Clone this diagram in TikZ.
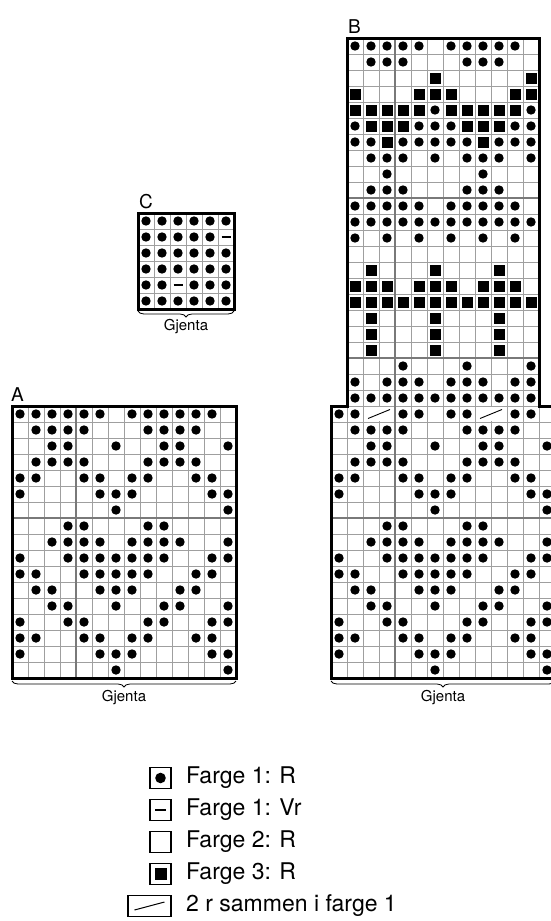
\documentclass[tikz,border=0pt]{standalone}
\usepackage{fontspec}
\setmainfont{TeX Gyre Heros}
\usetikzlibrary{decorations.pathreplacing}
\tikzset{
 gridln/.style={draw=gray!75, line width=0.9pt},
 tenln/.style={draw=gray!95!black, line width=1.8pt},
 frame/.style={draw=black, line width=3pt, line join=miter},
 brc/.style={decorate, decoration={brace, amplitude=6pt, mirror}, line width=0.8pt},
 lbl/.style={font=\fontsize{19}{19}\selectfont, inner sep=0pt, anchor=south west},
 gj/.style={font=\fontsize{15}{15}\selectfont, inner sep=0pt},
 legtxt/.style={font=\fontsize{23}{23}\selectfont, anchor=west, inner sep=0pt},
 legbox/.style={draw=black, line width=1.3pt, fill=white},
}
\newcommand\chartgrid[4]{%
  \foreach \i in {0,...,#3} \draw[gridln] ({#1+16*\i},#2) -- ++(0,{16*#4});
  \foreach \j in {0,...,#4} \draw[gridln] (#1,{#2+16*\j}) -- ++({16*#3},0);
}
\newcommand\dotrow[4]{\edef\dlist{#4}\foreach \c in \dlist {\fill ({#1+16*\c-8},{#2+16*#3-8}) circle[radius=4.7];}}
\newcommand\sqrow[4]{\edef\dlist{#4}\foreach \c in \dlist {\fill ({#1+16*\c-13.5},{#2+16*#3-13.5}) rectangle ++(11,11);}}
\newcommand\dashmark[2]{\draw[line width=1.4pt] ({#1-4.5},#2) -- ({#1+4.5},#2);}
\newcommand\lowerrows[2]{%
 \foreach \r/\cs in {2/{2,3,4,5,9,10,11,12},3/{3,4,7,10,11,14},4/{2,3,4,5,9,10,11,12},
   5/{1,2,5,6,8,9,12,13},6/{1,6,7,8,13,14},7/{7,14},8/{4,5,9,10},
   9/{3,4,5,6,8,9,10,11,14},10/{1,4,5,6,7,8,9,10,13,14},11/{1,2,5,6,7,8,9,12,13},
   12/{2,3,6,7,8,11,12},13/{3,4,7,10,11,14},14/{1,4,5,9,10,13,14},
   15/{1,2,5,6,8,9,12,13},16/{1,6,7,8,13,14},17/{7,14}}{\dotrow{#1}{#2}{\r}{\cs}}}
\begin{document}
\begin{tikzpicture}[x=1pt,y=-1pt]
\useasboundingbox (0,0) rectangle (551,921);
\clip (0,0) rectangle (551,921);
% ---------- Chart C
\chartgrid{138}{213}{6}{6}
\dotrow{138}{213}{1}{1,2,3,4,5,6}
\dotrow{138}{213}{2}{1,2,3,4,5}
\dashmark{226}{237}
\dotrow{138}{213}{3}{1,2,3,4,5,6}
\dotrow{138}{213}{4}{1,2,3,4,5,6}
\dotrow{138}{213}{5}{1,2,4,5,6}
\dashmark{178}{285}
\dotrow{138}{213}{6}{1,2,3,4,5,6}
\draw[frame] (138,213) rectangle (234,309);
\node[lbl] (labC) at (139,209) {C};
\draw[brc] (138,311) -- (234,311);
\node[gj] (gjC) at (186,327) {Gjenta};
% ---------- Chart A
\chartgrid{12}{406}{14}{17}
\draw[tenln] (76,406) -- (76,678);
\draw[tenln] (12,518) -- (236,518);
\dotrow{12}{406}{1}{1,2,3,4,5,6,8,9,10,11,12,13}
\lowerrows{12}{406}
\draw[frame] (12,406) rectangle (236,678);
\node[lbl] (labA) at (11,402) {A};
\draw[brc] (12,681) -- (236,681);
\node[gj] (gjA) at (124,698) {Gjenta};
% ---------- Chart B
\chartgrid{347}{38}{12}{23}
\chartgrid{331}{406}{14}{17}
\draw[tenln] (395,38) -- (395,678);
\draw[tenln] (347,198) -- (539,198);
\draw[tenln] (347,358) -- (539,358);
\draw[tenln] (331,518) -- (555,518);
% top part
\dotrow{347}{38}{1}{1,2,3,4,5,7,8,9,10,11}
\dotrow{347}{38}{2}{2,3,4,8,9,10}
\sqrow{347}{38}{3}{6,12}
\sqrow{347}{38}{4}{1,5,6,7,11,12}
\sqrow{347}{38}{5}{1,2,3,4,5,7,8,9,10,11}
\dotrow{347}{38}{5}{6,12}
\sqrow{347}{38}{6}{2,3,4,8,9,10}
\dotrow{347}{38}{6}{1,5,6,7,11,12}
\sqrow{347}{38}{7}{3,9}
\dotrow{347}{38}{7}{1,2,4,5,6,7,8,10,11,12}
\dotrow{347}{38}{8}{2,3,4,6,8,9,10,12}
\dotrow{347}{38}{9}{3,9}
\dotrow{347}{38}{10}{2,3,4,8,9,10}
\dotrow{347}{38}{11}{1,2,3,4,5,7,8,9,10,11}
\dotrow{347}{38}{12}{1,2,3,4,5,6,7,8,9,10,11,12}
\dotrow{347}{38}{13}{1,3,5,7,9,11}
\sqrow{347}{38}{15}{2,6,10}
\sqrow{347}{38}{16}{1,2,3,5,6,7,9,10,11}
\sqrow{347}{38}{17}{1,2,3,4,5,6,7,8,9,10,11,12}
\sqrow{347}{38}{18}{2,6,10}
\sqrow{347}{38}{19}{2,6,10}
\sqrow{347}{38}{20}{2,6,10}
\dotrow{347}{38}{21}{4,8,12}
\dotrow{347}{38}{22}{1,3,4,5,7,8,9,11,12}
\dotrow{347}{38}{23}{1,2,3,4,5,6,7,8,9,10,11,12}
% bottom part
\fill[white] (364,407.2) rectangle (394,420.8);
\fill[white] (476,407.2) rectangle (506,420.8);
\draw[line width=0.9pt] (368,418.5) -- (390,409.5);
\draw[line width=0.9pt] (480,418.5) -- (502,409.5);
\dotrow{331}{406}{1}{1,2,5,6,8,9,12,13}
\lowerrows{331}{406}
\draw[frame] (347,38) -- (539,38) -- (539,406) -- (555,406) -- (555,678) -- (331,678) -- (331,406) -- (347,406) -- cycle;
\node[lbl] (labB) at (348,34) {B};
\draw[brc] (331,681) -- (555,681);
\node[gj] (gjB) at (443,698) {Gjenta};
% ---------- Legend
\node[legbox, minimum width=21pt, minimum height=21pt, inner sep=0pt] (k1) at (160.5,778) {};
\fill (k1.center) circle[radius=5.3];
\node[legtxt] (t1) at (186,778) {Farge 1: R};
\node[legbox, minimum width=21pt, minimum height=21pt, inner sep=0pt] (k2) at (160.5,810) {};
\draw[line width=1.5pt] ([xshift=-5.5pt]k2.center) -- ([xshift=5.5pt]k2.center);
\node[legtxt] (t2) at (186,810) {Farge 1: Vr};
\node[legbox, minimum width=21pt, minimum height=21pt, inner sep=0pt] (k3) at (160.5,842) {};
\node[legtxt] (t3) at (186,842) {Farge 2: R};
\node[legbox, minimum width=21pt, minimum height=21pt, inner sep=0pt] (k4) at (160.5,874) {};
\fill ([shift={(-6pt,-6pt)}]k4.center) rectangle ([shift={(6pt,6pt)}]k4.center);
\node[legtxt] (t4) at (186,874) {Farge 3: R};
\node[legbox, minimum width=43pt, minimum height=21pt, inner sep=0pt] (k5) at (149.5,906) {};
\draw[line width=1pt] ([shift={(-15pt,-4pt)}]k5.center) -- ([shift={(15pt,4pt)}]k5.center);
\node[legtxt] (t5) at (186,906) {2 r sammen i farge 1};
\end{tikzpicture}
\end{document}
